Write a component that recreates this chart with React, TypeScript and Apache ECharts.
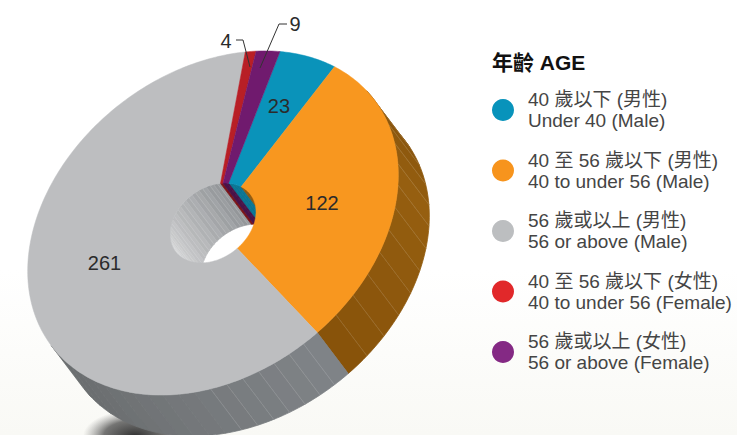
import React, { useEffect, useRef } from "react";
import * as echarts from "echarts";

const categories = [
  "40 歲以下 (男性)\nUnder 40 (Male)",
  "40 至 56 歲以下 (男性)\n40 to under 56 (Male)",
  "56 歲或以上 (男性)\n56 or above (Male)",
  "40 至 56 歲以下 (女性)\n40 to under 56 (Female)",
  "56 歲或以上 (女性)\n56 or above (Female)",
];
const values = [23, 122, 261, 4, 9];
const legendColors = ["#0893BB", "#F7941D", "#BCBEC0", "#E1282A", "#842984"];
const topColors = ["#0A93BA", "#F8971F", "#BDBEC0", "#B81F26", "#701A6E"];
const innerWallColors = ["#0B7593", "#8E5A12", "#999C9F", "#7A1418", "#4A1248"];
const title = "年齡 AGE";

const FONT = '"Liberation Sans", "Noto Sans CJK TC", sans-serif';
const START_DEG = -39;
const HOLE = 0.232;
const CX = 213;
const CY = 223;
const AX = 160.8;
const AY = -123.8;
const BX = 92.1;
const BY = 119.5;
const DX = 31;
const DY = 41;
const RAD = Math.PI / 180;

const total = values.reduce((a, b) => a + b, 0);
const spans = (() => {
  let acc = START_DEG;
  return values.map((v) => {
    const s = acc;
    acc += (v / total) * 360;
    return [s, acc];
  });
})();

function pt(tDeg: number, r: number, dx = 0, dy = 0): number[] {
  const c = Math.cos(tDeg * RAD);
  const s = Math.sin(tDeg * RAD);
  return [CX + r * (AX * c + BX * s) + dx, CY + r * (AY * c + BY * s) + dy];
}

// Sign of the rim's outward normal against the extrusion: > 0 on the near side.
function facing(tDeg: number): number {
  const c = Math.cos(tDeg * RAD);
  const s = Math.sin(tDeg * RAD);
  const tx = -AX * s + BX * c;
  const ty = -AY * s + BY * c;
  return ty * DX - tx * DY;
}

function hex(c: string): number[] {
  return [1, 3, 5].map((i) => parseInt(c.slice(i, i + 2), 16));
}
function mixN(p: number[], q: number[], f: number): number[] {
  const k = Math.max(0, Math.min(1, f));
  return p.map((v, i) => Math.round(v + (q[i] - v) * k));
}
function css(p: number[]): string {
  return `rgb(${p.join(",")})`;
}
function mix(a: string, b: string, f: number): string {
  return css(mixN(hex(a), hex(b), f));
}

function outerColor(i: number, t: number): string {
  if (i === 1) {
    return t < 30
      ? mix("#7C4C0A", "#965F10", (t + 19) / 49)
      : mix("#965F10", "#87520A", (t - 30) / 56);
  }
  if (i === 2) return mix("#808488", "#6B6E70", (t - 86) / 80);
  return "#555555";
}
function innerColor(i: number, t: number, n: number): string {
  if (i !== 2) return innerWallColors[i];
  const base = mixN(hex("#EDEDED"), hex("#94979A"), (t - 150) / 150);
  return css(n % 2 ? base : mixN(base, [255, 255, 255], 0.06));
}

function wall(
  api: any,
  r: number,
  sign: number,
  colorOf: (i: number, t: number, n: number) => string,
  lineOn: (i: number, t: number) => boolean,
  stepOf: (i: number) => number,
) {
  const i = api.value(2);
  const s = api.value(0);
  const e = api.value(1);
  const step = stepOf(i);
  const children: any[] = [];
  let n = 0;
  for (let a = s; a < e - 1e-6; a += step) {
    const b = Math.min(a + step, e);
    const visible = sign * facing(a) > 0 || sign * facing(b) > 0;
    if (visible) {
      const top: number[][] = [];
      const bot: number[][] = [];
      for (let k = 0; k <= 5; k++) {
        const t = a + ((b - a) * k) / 5;
        top.push(pt(t, r));
        bot.unshift(pt(t, r, DX, DY));
      }
      const col = colorOf(i, (a + b) / 2, n);
      children.push({
        type: "polygon",
        shape: { points: top.concat(bot) },
        style: { fill: col, stroke: col, lineWidth: 0.8 },
      });
    }
    n++;
  }
  for (let a = s + step; a < e; a += step) {
    if (sign * facing(a) > 0 && lineOn(i, a)) {
      const p = pt(a, r);
      const q = pt(a, r, DX, DY);
      children.push({
        type: "line",
        z2: 5,
        shape: { x1: p[0], y1: p[1], x2: q[0], y2: q[1] },
        style: { stroke: "rgba(255,255,255,0.22)", lineWidth: 0.6 },
      });
    }
  }
  return { type: "group", children };
}

const labelSpec = [
  { r: 0.7, dt: -0.5, off: [0, 0], lead: null },
  { r: 0.59, dt: 1.3, off: [0, 0], lead: null },
  { r: 0.59, dt: 5, off: [0, 0], lead: null },
  { r: 0, dt: 0, off: [226, 41], lead: [[236, 40], [243, 40], [250, 67]] },
  { r: 0, dt: 0, off: [295, 24], lead: [[287, 24], [279, 24], [260, 68]] },
];

function topSeries(i: number) {
  return {
    type: "custom",
    name: categories[i],
    coordinateSystem: "none",
    silent: true,
    itemStyle: { color: legendColors[i] },
    data: [[spans[i][0], spans[i][1], i, values[i]]],
    z: 5,
    renderItem: (_p: any, api: any) => {
      const s = api.value(0);
      const e = api.value(1);
      const outer: number[][] = [];
      const inner: number[][] = [];
      for (let t = s; t < e; t += 1) {
        outer.push(pt(t, 1));
        inner.unshift(pt(t, HOLE));
      }
      outer.push(pt(e, 1));
      inner.unshift(pt(e, HOLE));
      const spec = labelSpec[i];
      const kids: any[] = [
        {
          type: "polygon",
          shape: { points: outer.concat(inner) },
          style: { fill: topColors[i], stroke: topColors[i], lineWidth: 0.5 },
        },
      ];
      if (spec.lead) {
        kids.push({
          type: "polyline",
          z2: 20,
          shape: { points: spec.lead },
          style: { fill: "none", stroke: "#333333", lineWidth: 1 },
        });
      }
      return { type: "group", children: kids };
    },
  };
}

function labelSeries() {
  return {
    type: "custom",
    name: "labels",
    coordinateSystem: "none",
    silent: true,
    z: 8,
    data: values.map((v, i) => [spans[i][0], spans[i][1], i, v]),
    renderItem: (_p: any, api: any) => {
      const i = api.value(2);
      const spec = labelSpec[i];
      const mid = (api.value(0) + api.value(1)) / 2 + spec.dt;
      const lp = spec.r ? pt(mid, spec.r) : spec.off;
      return {
        type: "text",
        style: {
          text: String(api.value(3)),
          x: lp[0],
          y: lp[1],
          align: "center",
          verticalAlign: "middle",
          font: `20px ${FONT}`,
          fill: "#2b2b2b",
        },
      };
    },
  };
}

export default function App() {
  const ref = useRef<HTMLDivElement>(null);
  useEffect(() => {
    document.body.style.margin = "0";
    const chart = echarts.init(ref.current!, undefined, { renderer: "svg" });
    const wallData = values.map((v, i) => [spans[i][0], spans[i][1], i, v]);
    chart.setOption({
      animation: false,
      backgroundColor: "#ffffff",
      title: {
        text: title,
        left: 487,
        top: 47,
        textStyle: { fontFamily: FONT, fontSize: 21, fontWeight: "bold", color: "#111111" },
      },
      legend: {
        orient: "vertical",
        left: 487,
        top: 84,
        itemWidth: 40,
        itemHeight: 22,
        itemGap: 18.5,
        icon: "circle",
        selectedMode: false,
        textStyle: { fontFamily: FONT, fontSize: 19, lineHeight: 21, color: "#454545" },
        data: categories.map((name, i) => ({ name, itemStyle: { color: legendColors[i] } })),
      },
      graphic: [
        {
          type: "rect",
          z: -10,
          silent: true,
          shape: { x: 0, y: 270, width: 737, height: 165 },
          style: {
            fill: new echarts.graphic.LinearGradient(0, 0, 0, 1, [
              { offset: 0, color: "#ffffff" },
              { offset: 1, color: "#f9f9f5" },
            ]),
          },
        },
        {
          type: "ellipse",
          z: -9,
          silent: true,
          shape: { cx: 135, cy: 436, rx: 52, ry: 26 },
          style: {
            fill: new echarts.graphic.RadialGradient(0.5, 0.5, 0.5, [
              { offset: 0, color: "rgba(40,40,40,0.95)" },
              { offset: 0.6, color: "rgba(60,60,60,0.7)" },
              { offset: 1, color: "rgba(120,120,120,0)" },
            ]),
          },
        },
      ],
      series: [
        {
          type: "custom",
          name: "outer wall",
          coordinateSystem: "none",
          silent: true,
          z: 2,
          data: wallData,
          renderItem: (_p: any, api: any) =>
            wall(api, 1, 1, (i, t) => outerColor(i, t), (i, t) => i === 1 || (i === 2 && t < 122), (i) => (i === 1 ? 7.5 : 5)),
        },
        {
          type: "custom",
          name: "inner wall",
          coordinateSystem: "none",
          silent: true,
          z: 3,
          data: wallData,
          renderItem: (_p: any, api: any) =>
            wall(api, HOLE, -1, innerColor, (i) => i === 2, () => 5),
        },
        ...values.map((_v, i) => topSeries(i)),
        labelSeries(),
      ],
    });
    return () => chart.dispose();
  }, []);
  return <div ref={ref} style={{ position: "fixed", left: 0, top: 0, width: 737, height: 435 }} />;
}
